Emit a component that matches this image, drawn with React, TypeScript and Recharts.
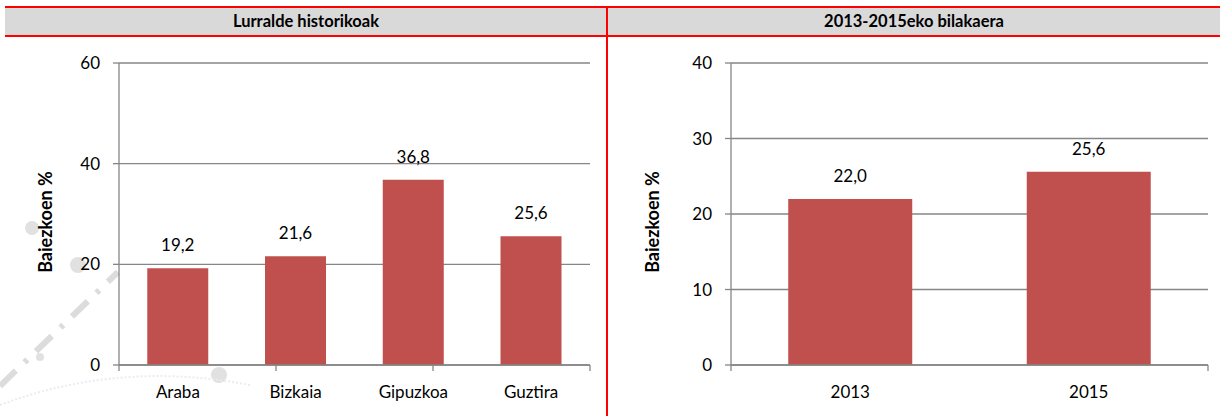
import React from 'react';
import { BarChart, Bar, XAxis, YAxis, CartesianGrid, LabelList } from 'recharts';

// Territories panel
const territories = ['Araba', 'Bizkaia', 'Gipuzkoa', 'Guztira'];
const territoryValues = [19.2, 21.6, 36.8, 25.6];
const territoryTicks = [0, 20, 40, 60];

// Evolution panel
const years = ['2013', '2015'];
const yearValues = [22.0, 25.6];
const yearTicks = [0, 10, 20, 30, 40];

const leftTitle = 'Lurralde historikoak';
const rightTitle = '2013-2015eko bilakaera';
const yLabel = 'Baiezkoen %';

const FONT = 'Lato, "Open Sans", sans-serif';
const BAR = '#C0504D';
const AXIS = '#868686';
const RED = '#FF0000';

const territoryData = territories.map((name, i) => ({ name, value: territoryValues[i] }));
const yearData = years.map((name, i) => ({ name, value: yearValues[i] }));

const fmt = (v: any) => Number(v).toFixed(1).replace('.', ',');

const YTitle = () => {
  const x = 45;
  const y = 222;
  return (
    <text
      x={x}
      y={y}
      transform={`rotate(-90, ${x}, ${y})`}
      textAnchor="middle"
      dominantBaseline="central"
      fontFamily={FONT}
      fontWeight={700}
      fontSize={18}
      fill="#000"
    >
      {yLabel}
    </text>
  );
};

type PanelProps = {
  data: { name: string; value: number }[];
  ticks: number[];
  left: number;
  width: number;
  marginLeft: number;
  marginRight: number;
};

const Panel = ({ data, ticks, left, width, marginLeft, marginRight }: PanelProps) => (
  <div style={{ position: 'absolute', left, top: 0 }}>
    <BarChart
      width={width}
      height={416}
      data={data}
      margin={{ top: 63, right: marginRight, bottom: 0, left: marginLeft }}
      barCategoryGap="24%"
    >
      <CartesianGrid vertical={false} stroke={AXIS} strokeWidth={1.3} yAxisId="v" xAxisId="cat" />
      {/* boundary tick marks between categories */}
      <XAxis
        xAxisId="a-edges"
        type="number"
        domain={[0, data.length]}
        ticks={data.map((_, i) => i).concat([data.length])}
        interval={0}
        height={1}
        tickFormatter={() => ''}
        tickSize={6}
        tickLine={{ stroke: AXIS, strokeWidth: 1.3 }}
        axisLine={{ stroke: AXIS, strokeWidth: 1.3 }}
        allowDataOverflow
      />
      <XAxis
        xAxisId="cat"
        dataKey="name"
        height={50}
        axisLine={false}
        tickLine={false}
        tickSize={0}
        tickMargin={20}
        tick={{ fill: '#000', fontFamily: FONT, fontSize: 17 }}
        interval={0}
      />
      <YAxis
        yAxisId="v"
        width={60}
        domain={[ticks[0], ticks[ticks.length - 1]]}
        ticks={ticks}
        interval={0}
        tickSize={6}
        tickMargin={13}
        tickLine={{ stroke: AXIS, strokeWidth: 1.3 }}
        axisLine={{ stroke: AXIS, strokeWidth: 1.3 }}
        tick={{ fill: '#000', fontFamily: FONT, fontSize: 17 }}
        label={<YTitle />}
      />
      <Bar dataKey="value" xAxisId="cat" yAxisId="v" fill={BAR} isAnimationActive={false}>
        <LabelList
          dataKey="value"
          position="top"
          offset={17}
          formatter={fmt}
          style={{ fill: '#000', fontFamily: FONT, fontSize: 17 }}
        />
      </Bar>
    </BarChart>
  </div>
);

// faint background emblem in the lower-left corner
const Emblem = () => (
  <svg width={300} height={216} style={{ position: 'absolute', left: 0, top: 200 }}>
    <g fill="#e1e1e1" stroke="none">
      <circle cx={32} cy={28} r={7} />
      <circle cx={78} cy={65} r={8} />
      <circle cx={219} cy={175} r={8} />
      <circle cx={40} cy={157} r={4} />
    </g>
    <line x1={0} y1={186} x2={118} y2={72} stroke="#dcdcdc" strokeWidth={6} strokeDasharray="22 12 4 12" />
    <path d="M 0 205 Q 120 160 250 185" fill="none" stroke="#ececec" strokeWidth={2} strokeDasharray="2 2" />
  </svg>
);

export default function App() {
  return (
    <div style={{ position: 'absolute', left: 0, top: 0, width: 1220, height: 416, background: '#fff', overflow: 'hidden' }}>
      <Emblem />
      {/* header band */}
      <div style={{ position: 'absolute', left: 5, top: 7, width: 1215, height: 29, background: '#D9D9D9' }} />
      <div
        style={{
          position: 'absolute', left: 5, top: 7, width: 602, height: 29, lineHeight: '29px',
          textAlign: 'center', fontFamily: FONT, fontWeight: 700, fontSize: 16.5, color: '#000',
        }}
      >
        {leftTitle}
      </div>
      <div
        style={{
          position: 'absolute', left: 608, top: 7, width: 612, height: 29, lineHeight: '29px',
          textAlign: 'center', fontFamily: FONT, fontWeight: 700, fontSize: 16.5, color: '#000',
        }}
      >
        {rightTitle}
      </div>
      <Panel data={territoryData} ticks={territoryTicks} left={0} width={607} marginLeft={59} marginRight={17} />
      <Panel data={yearData} ticks={yearTicks} left={607} width={613} marginLeft={64} marginRight={12} />
      {/* red frame lines */}
      <div style={{ position: 'absolute', left: 5, top: 6, width: 1215, height: 2, background: RED }} />
      <div style={{ position: 'absolute', left: 5, top: 35, width: 1215, height: 2, background: RED }} />
      <div style={{ position: 'absolute', left: 606, top: 6, width: 2, height: 410, background: RED }} />
    </div>
  );
}
